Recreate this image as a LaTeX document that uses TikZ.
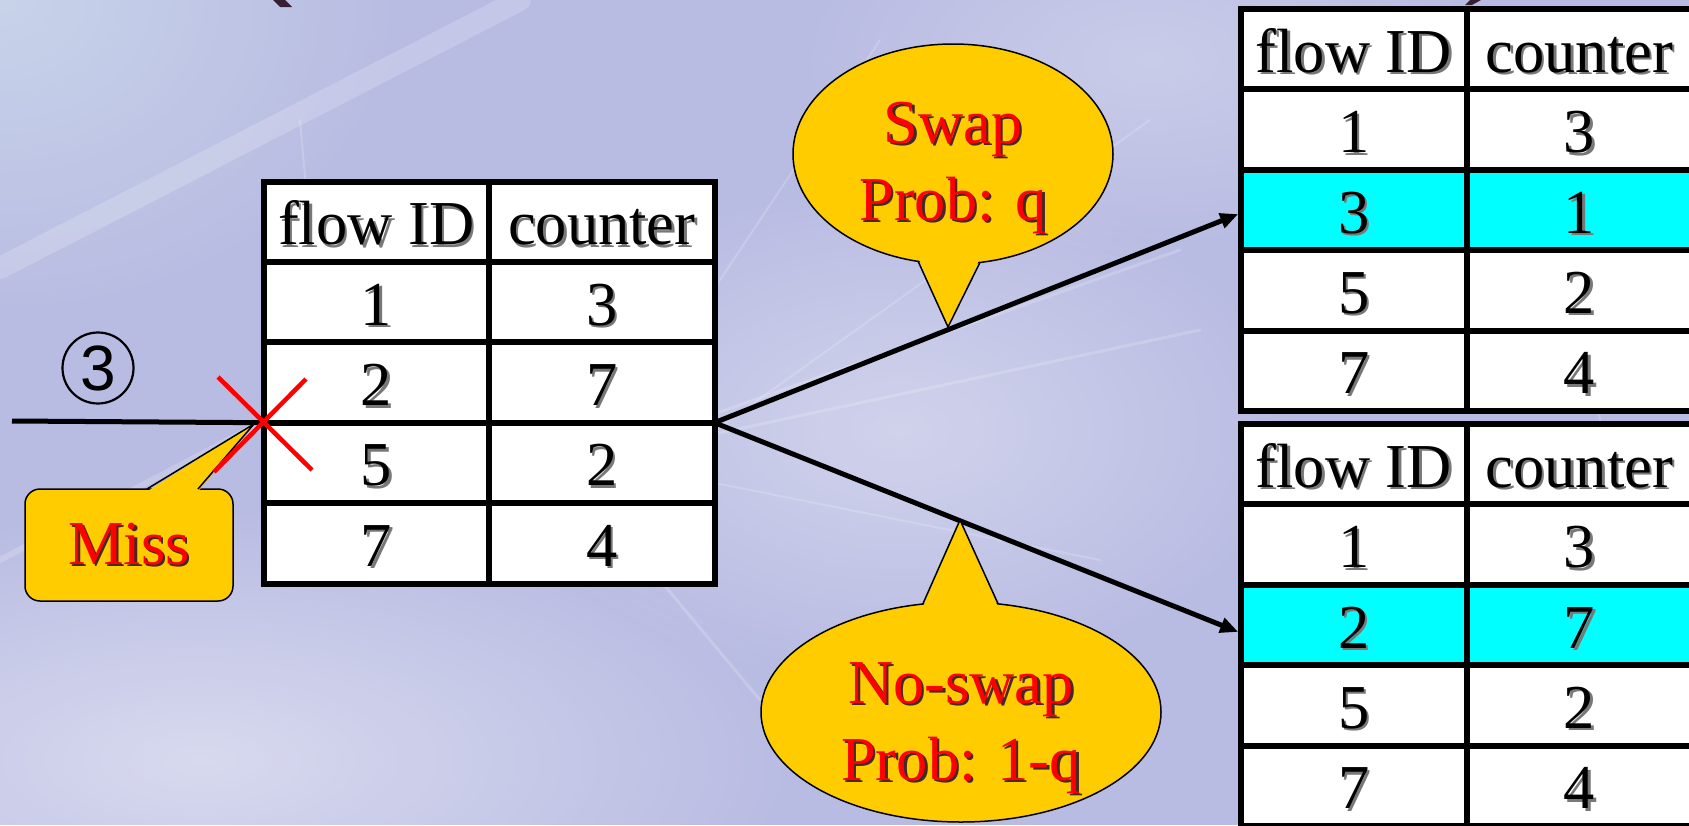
\documentclass[tikz,border=0pt]{standalone}
\usepackage{fontspec}
\setmainfont{Liberation Serif}
\newfontfamily\sansf{Liberation Sans}
\usetikzlibrary{arrows.meta,shapes.geometric,fadings}
\tikzfading[name=glowfade, inner color=transparent!0, outer color=transparent!100]
\definecolor{bgbase}{RGB}{184,187,226}
\definecolor{bgcorner}{RGB}{200,212,234}
\definecolor{callyellow}{RGB}{255,204,0}
\definecolor{hlcyan}{RGB}{0,255,255}
\definecolor{shadowgray}{RGB}{120,120,120}
\definecolor{shadowdark}{RGB}{70,40,40}
\definecolor{parcol}{RGB}{55,30,50}
\newcommand\tabfont{\fontsize{62.5}{77}\selectfont}
\newcommand\shtext[2][shadowgray]{\leavevmode\rlap{\kern2.5pt\raisebox{-2.5pt}{\color{#1}#2}}#2}
\newcommand\flowtable[5]{%
  \node[cellbox] (#1-0-1) at (#2,#3) {\shtext{flow ID}};
  \node[cellbox] (#1-0-2) at (#1-0-1.north east) {\shtext{counter}};
  \foreach \a/\b [count=\i] in {#5} {
    \pgfmathtruncatemacro\prev{\i-1}
    \ifnum\i=#4 \def\cf{hlcyan}\else\def\cf{white}\fi
    \node[cellbox, fill=\cf] (#1-\i-1) at (#1-\prev-1.south west) {\shtext{\a}};
    \node[cellbox, fill=\cf] (#1-\i-2) at (#1-\i-1.north east) {\shtext{\b}};
  }%
}
\begin{document}
\begin{tikzpicture}[x=1pt,y=-1pt,
  cellbox/.style={draw=black, line width=6pt, fill=white, minimum width=225.5pt,
    minimum height=80.4pt, inner sep=0pt, outer sep=0pt, anchor=north west,
    text height=46pt, text depth=0pt, font=\tabfont},
  conn/.style={line width=5pt, -{Triangle[length=18pt,width=15pt]}, shorten >=3pt},
  bubble/.style={ellipse, draw=black, line width=1.5pt, fill=callyellow, inner sep=0pt, outer sep=0pt},
  bubtext/.style={align=center, text=red, font=\tabfont, inner sep=0pt},
  tailedge/.style={draw=black, line width=1.5pt, line join=miter},
  streak/.style={white, opacity=0.18, line cap=round},
]
\useasboundingbox (0,0) rectangle (1689,825);
\clip (0,0) rectangle (1689,825);
% background
\fill[bgbase] (0,0) rectangle (1689,825);
\fill[bgcorner, path fading=glowfade] (0,0) ellipse [x radius=420, y radius=330];
\fill[white, opacity=0.45, path fading=glowfade] (200,760) ellipse [x radius=620, y radius=260];
\fill[white, opacity=0.35, path fading=glowfade] (900,430) ellipse [x radius=420, y radius=260];
\fill[white, opacity=0.25, path fading=glowfade] (1150,60) ellipse [x radius=380, y radius=200];
\draw[streak, line width=22pt] (0,268) -- (520,0);
\draw[streak, line width=6pt] (0,560) -- (380,360);
\draw[streak, line width=3pt] (640,440) -- (1180,250);
\draw[streak, line width=3pt] (640,450) -- (1200,330);
\draw[streak, line width=2pt] (660,470) -- (1150,120);
\draw[streak, line width=2pt] (620,430) -- (880,40);
\draw[streak, line width=3pt] (560,460) -- (760,700);
\draw[streak, line width=2pt] (700,480) -- (1100,560);
\draw[streak, line width=2pt] (300,120) -- (330,460);
\draw[streak, line width=2pt] (1550,120) -- (1600,420);
% clipped title fragments
\fill[parcol] (273,0) -- (285,0) -- (292,7) -- (280,7) -- cycle;
\fill[parcol] (1470,0) -- (1481,0) -- (1472,5) -- (1465,5) -- cycle;
% tables
\flowtable{L}{263.5}{181.5}{0}{1/3,2/7,5/2,7/4}
\flowtable{T}{1241}{9}{2}{1/3,3/1,5/2,7/4}
\flowtable{B}{1241}{424}{2}{1/3,2/7,5/2,7/4}
% input line
\coordinate (src) at (12,421);
\draw[line width=5pt] (src) -- (L-2-1.south west);
% connectors
\draw[conn] (L-2-2.south east) -- ([yshift=-3pt]T-2-1.west);
\draw[conn] (L-2-2.south east) -- ([yshift=-8pt]B-2-1.west);
% circled 3
\node[circle, draw=black, line width=2.2pt, minimum size=71pt, inner sep=0pt,
  font=\sansf\fontsize{64}{64}\selectfont] (step3) at (98,368) {3};
% Miss callout
\node[draw=black, line width=1.5pt, fill=callyellow, rounded corners=15pt,
  minimum width=208pt, minimum height=112pt, inner sep=0pt, outer sep=0pt,
  text=red, font=\tabfont] (miss) at (129,545) {\shtext[shadowdark]{Miss}};
\fill[callyellow] (147,491.5) -- (254,424) -- (198,491.5) -- cycle;
\draw[tailedge] (147,489) -- (254,424) -- (198,489);
% red cross
\draw[red, line width=4.5pt] (218,377) -- (312,470);
\draw[red, line width=4.5pt] (306,379) -- (214,472);
% Swap bubble
\node[bubble, minimum width=320pt, minimum height=220pt] (swapb) at (953,154) {};
\fill[callyellow] (917.5,256) -- (948,327) -- (980.5,257) -- cycle;
\draw[tailedge] (918.1,261.3) -- (948,327) -- (980,262.4);
\node[bubtext] (swapt) at (953,169) {\shtext[shadowdark]{Swap}\\\shtext[shadowdark]{Prob: q}};
% No-swap bubble
\node[bubble, minimum width=400pt, minimum height=220pt] (noswapb) at (961,712) {};
\fill[callyellow] (922,609) -- (960,520) -- (999,609) -- cycle;
\draw[tailedge] (922.8,604) -- (960,520) -- (998.1,603.9);
\node[bubtext] (noswapt) at (961,729.4) {\shtext[shadowdark]{No-swap}\\\shtext[shadowdark]{Prob: 1-q}};
\end{tikzpicture}
\end{document}
